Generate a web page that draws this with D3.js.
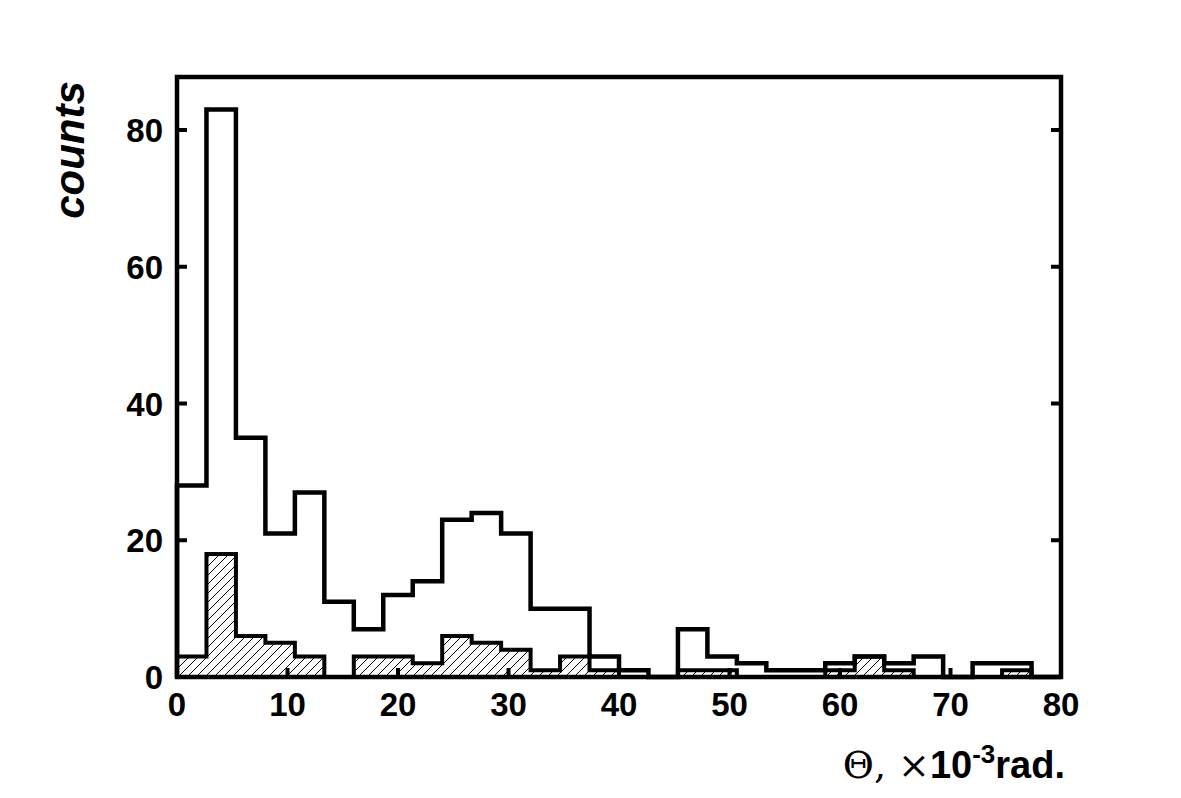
<!DOCTYPE html><html><head><meta charset="utf-8">
<script src="https://cdn.jsdelivr.net/npm/d3@7"></script>
<style>body{margin:0;background:#fff}text{font-family:"Liberation Sans",Arial,sans-serif;font-weight:bold}</style></head><body>
<svg id="c" width="1181" height="798"></svg>
<script>
const binEdges = d3.range(31).map(i => i * 80 / 30);
const totalCounts = [28,83,35,21,27,11,7,12,14,23,24,21,10,10,3,1,0,7,3,2,1,1,2,3,2,3,0,2,2,0];
const selectedCounts = [3,18,6,5,3,0,3,3,2,6,5,4,1,3,1,0,0,1,1,0,0,0,1,3,1,0,0,0,1,0];
const xTicks = [0,10,20,30,40,50,60,70,80];
const yTicks = [0,20,40,60,80];

const svg = d3.select("#c");
const L=177,R=1061,T=77,B=677;
const x = d3.scaleLinear().domain([0,80]).range([L,R]);
const y = d3.scaleLinear().domain([0,80]).range([B,130]);

const defs = svg.append("defs");
const pat = defs.append("pattern").attr("id","h").attr("patternUnits","userSpaceOnUse").attr("width",9).attr("height",9);
pat.append("path").attr("d","M-1,1 l2,-2 M0,9 l9,-9 M8,10 l2,-2").attr("stroke","#000").attr("stroke-width",1);

function stepPath(vals){
  let p = `M${x(0)},${y(0)}`;
  vals.forEach((v,i)=>{ p += `L${x(binEdges[i])},${y(v)}L${x(binEdges[i+1])},${y(v)}`; });
  p += `L${x(80)},${y(0)}`;
  return p;
}
svg.append("path").attr("d",stepPath(selectedCounts)+"Z").attr("fill","url(#h)").attr("stroke","#000").attr("stroke-width",4);
svg.append("path").attr("d",stepPath(totalCounts)).attr("fill","none").attr("stroke","#000").attr("stroke-width",4.5);

svg.append("rect").attr("x",L).attr("y",T).attr("width",R-L).attr("height",B-T).attr("fill","none").attr("stroke","#000").attr("stroke-width",4.5);

yTicks.forEach(t=>{
  svg.append("line").attr("x1",L).attr("x2",L+10).attr("y1",y(t)).attr("y2",y(t)).attr("stroke","#000").attr("stroke-width",4);
  svg.append("line").attr("x1",R).attr("x2",R-10).attr("y1",y(t)).attr("y2",y(t)).attr("stroke","#000").attr("stroke-width",4);
  svg.append("text").attr("x",163).attr("y",y(t)+12).attr("text-anchor","end").attr("font-size",33).text(t);
});
xTicks.forEach(t=>{
  svg.append("line").attr("x1",x(t)).attr("x2",x(t)).attr("y1",B).attr("y2",B-9).attr("stroke","#000").attr("stroke-width",4);
  svg.append("text").attr("x",x(t)).attr("y",716).attr("text-anchor","middle").attr("font-size",33).text(t);
});

svg.append("text").attr("transform","translate(84,150) rotate(-90)").attr("text-anchor","middle").attr("font-size",42).attr("font-style","italic").text("counts");
const xl = svg.append("text").attr("x",1065).attr("y",778).attr("text-anchor","end").attr("font-size",38);
xl.append("tspan").attr("font-family","DejaVu Serif").attr("font-weight","normal").text("Θ, ×");
xl.append("tspan").text("10");
xl.append("tspan").attr("dy",-15).attr("font-size",26).text("-3");
xl.append("tspan").attr("dy",15).text("rad.");
</script></body></html>
